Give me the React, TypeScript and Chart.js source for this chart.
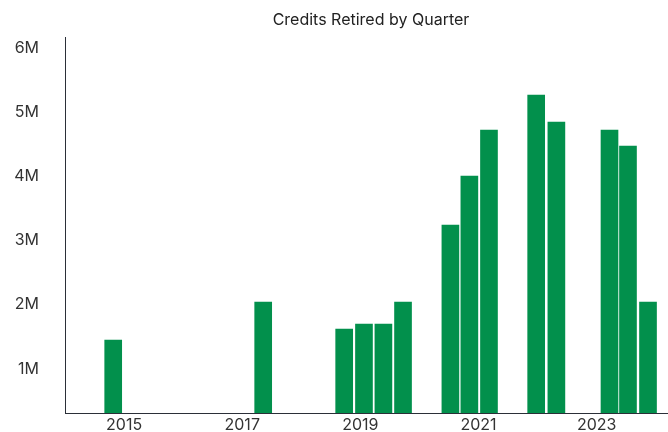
import React, { useEffect, useRef } from "react";
import { Chart, registerables } from "chart.js";

Chart.register(...registerables);

// Bar positions on the time axis (decimal years) and credits retired
const periods = [
  2014.816, 2017.355, 2018.726, 2019.061, 2019.39, 2019.722, 2020.524,
  2020.845, 2021.177, 2021.976, 2022.318, 2023.217, 2023.53, 2023.869,
];
const retired = [
  1447000, 2039000, 1619000, 1696000, 1696000, 2039000, 3239000, 4003000,
  4719000, 5264000, 4843000, 4719000, 4470000, 2039000,
];
const yearTicks = [2015, 2017, 2019, 2021, 2023];
const valueTicks = [1000000, 2000000, 3000000, 4000000, 5000000, 6000000];
const title = "Credits Retired by Quarter";

export default function App() {
  const ref = useRef<HTMLCanvasElement | null>(null);

  useEffect(() => {
    if (!ref.current) return;
    const chart = new Chart(ref.current, {
      type: "bar",
      data: {
        datasets: [
          {
            label: "Credits retired",
            data: periods.map((x, i) => ({ x, y: retired[i] })),
            backgroundColor: "#02904c",
            borderWidth: 0,
            barThickness: 17,
          },
        ],
      },
      options: {
        animation: false,
        responsive: true,
        maintainAspectRatio: false,
        layout: { padding: 0 },
        plugins: {
          legend: { display: false },
          tooltip: { enabled: false },
          title: {
            display: true,
            text: title,
            color: "#222",
            font: { family: "Inter", size: 16, weight: "normal" },
            padding: { top: 11, bottom: 7 },
          },
        },
        scales: {
          x: {
            type: "linear",
            offset: false,
            min: 2014,
            max: 2025.46,
            grid: { display: false, drawTicks: false },
            border: { display: true, color: "#2b2f38", width: 1 },
            afterBuildTicks: (scale: any) => {
              scale.ticks = yearTicks.map((v) => ({ value: v }));
            },
            afterFit: (scale: any) => {
              scale.height = 19;
            },
            ticks: {
              padding: 3,
              color: "#333",
              font: { family: "Inter", size: 16 },
              autoSkip: false,
              maxRotation: 0,
              callback: (v: any) => String(v),
            },
          },
          y: {
            min: 310000,
            max: 6168000,
            grid: { display: false, drawTicks: true, tickLength: 23 },
            border: { display: true, color: "#2b2f38", width: 1 },
            afterBuildTicks: (scale: any) => {
              scale.ticks = valueTicks.map((v) => ({ value: v }));
            },
            afterFit: (scale: any) => {
              scale.width = 65;
            },
            ticks: {
              padding: 3,
              color: "#333",
              font: { family: "Inter", size: 16 },
              callback: (v: any) => `${Number(v) / 1000000}M`,
            },
          },
        },
      },
    });
    return () => chart.destroy();
  }, []);

  return (
    <div
      style={{
        position: "fixed",
        left: 0,
        top: 0,
        width: 668,
        height: 432,
        overflow: "hidden",
        background: "#fff",
      }}
    >
      <div style={{ position: "relative", width: 742, height: 432 }}>
        <canvas ref={ref} />
      </div>
    </div>
  );
}
